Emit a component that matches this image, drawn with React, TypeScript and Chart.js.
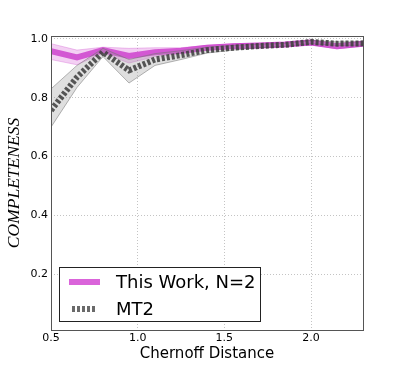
import React, { useEffect, useRef } from "react";
import { Chart, registerables } from "chart.js";

Chart.register(...registerables);

const xVals = [0.5, 0.65, 0.8, 0.95, 1.1, 1.25, 1.4, 1.55, 1.7, 1.85, 2.0, 2.15, 2.3];
const thisWork = [0.958, 0.937, 0.962, 0.942, 0.955, 0.96, 0.97, 0.975, 0.978, 0.981, 0.988, 0.975, 0.984];
const thisWorkLow = [0.93, 0.912, 0.952, 0.918, 0.94, 0.95, 0.962, 0.968, 0.972, 0.975, 0.982, 0.966, 0.978];
const thisWorkHigh = [0.984, 0.962, 0.972, 0.968, 0.97, 0.97, 0.978, 0.982, 0.984, 0.987, 0.993, 0.983, 0.99];
const mt2 = [0.757, 0.87, 0.955, 0.893, 0.93, 0.945, 0.962, 0.97, 0.976, 0.98, 0.99, 0.984, 0.985];
const mt2Low = [0.7, 0.835, 0.94, 0.85, 0.91, 0.93, 0.952, 0.962, 0.97, 0.975, 0.984, 0.978, 0.979];
const mt2High = [0.83, 0.91, 0.968, 0.93, 0.95, 0.96, 0.972, 0.978, 0.982, 0.985, 0.995, 0.99, 0.99];

const xTicks = [0.5, 1.0, 1.5, 2.0];
const yTicks = [0.2, 0.4, 0.6, 0.8, 1.0];
const legendLabels = ["This Work, N=2", "MT2"];
const xTitle = "Chernoff Distance";
const yTitle = "COMPLETENESS";

const pts = (ys: number[]) => xVals.map((x, i) => ({ x, y: ys[i] }));

const MAGENTA_LINE = "rgb(206,70,206)";
const MAGENTA_LEGEND = "rgb(218,100,218)";
const MT2_COLOR = "rgba(60,60,60,0.85)";

const framePlugin = {
  id: "frame",
  afterDraw(chart: any) {
    const { ctx, chartArea } = chart;
    const { left, top, right, bottom } = chartArea;
    ctx.save();
    ctx.strokeStyle = "#555";
    ctx.lineWidth = 1;
    ctx.strokeRect(Math.round(left) + 0.5, Math.round(top) + 0.5, Math.round(right - left), Math.round(bottom - top));
    // legend
    const lx = left + 8;
    const ly = bottom - 63;
    const lw = 201;
    const lh = 54;
    ctx.fillStyle = "#fff";
    ctx.fillRect(lx, ly, lw, lh);
    ctx.strokeStyle = "#222";
    ctx.lineWidth = 1;
    ctx.strokeRect(lx + 0.5, ly + 0.5, lw, lh);
    ctx.font = "18px 'DejaVu Sans'";
    ctx.fillStyle = "#000";
    ctx.textBaseline = "middle";
    ctx.textAlign = "left";
    const r1 = ly + 15;
    const r2 = ly + 42;
    ctx.lineCap = "butt";
    ctx.strokeStyle = MAGENTA_LEGEND;
    ctx.lineWidth = 6;
    ctx.beginPath();
    ctx.moveTo(lx + 10, r1);
    ctx.lineTo(lx + 41, r1);
    ctx.stroke();
    ctx.strokeStyle = "rgba(90,90,90,0.9)";
    ctx.setLineDash([3, 2]);
    ctx.beginPath();
    ctx.moveTo(lx + 13, r2);
    ctx.lineTo(lx + 38, r2);
    ctx.stroke();
    ctx.setLineDash([]);
    ctx.fillText(legendLabels[0], lx + 57, r1 + 1);
    ctx.fillText(legendLabels[1], lx + 57, r2 + 1);
    ctx.restore();
  },
};

export default function App() {
  const ref = useRef<HTMLCanvasElement>(null);
  useEffect(() => {
    document.body.style.margin = "0";
    const chart = new Chart(ref.current!, {
      type: "line",
      data: {
        datasets: [
          {
            label: "MT2",
            data: pts(mt2),
            borderColor: MT2_COLOR,
            borderWidth: 6,
            borderDash: [3, 2],
            borderCapStyle: "butt",
            pointRadius: 0,
            fill: false,
            order: 0,
          },
          {
            label: "mt2Low",
            data: pts(mt2Low),
            borderColor: "rgba(110,110,110,0.5)",
            borderWidth: 1,
            pointRadius: 0,
            fill: false,
            order: 1,
          },
          {
            label: "mt2High",
            data: pts(mt2High),
            borderColor: "rgba(110,110,110,0.5)",
            borderWidth: 1,
            pointRadius: 0,
            fill: "-1",
            backgroundColor: "rgba(150,150,150,0.3)",
            order: 1,
          },
          {
            label: "twLow",
            data: pts(thisWorkLow),
            borderColor: "rgba(210,90,210,0.35)",
            borderWidth: 1,
            pointRadius: 0,
            fill: false,
            order: 2,
          },
          {
            label: "twHigh",
            data: pts(thisWorkHigh),
            borderColor: "rgba(210,90,210,0.35)",
            borderWidth: 1,
            pointRadius: 0,
            fill: "-1",
            backgroundColor: "rgba(220,120,220,0.35)",
            order: 2,
          },
          {
            label: "This Work, N=2",
            data: pts(thisWork),
            borderColor: MAGENTA_LINE,
            borderWidth: 6,
            pointRadius: 0,
            fill: false,
            order: 3,
          },
        ],
      },
      options: {
        responsive: false,
        animation: false,
        devicePixelRatio: 1,
        layout: { padding: { left: 0, top: 36, right: 40, bottom: 0 } },
        plugins: { legend: { display: false }, tooltip: { enabled: false } },
        scales: {
          x: {
            type: "linear",
            min: 0.5,
            max: 2.3,
            afterBuildTicks: (s: any) => {
              s.ticks = xTicks.map((v) => ({ value: v }));
            },
            afterFit: (s: any) => {
              s.height = 37;
            },
            grid: { color: "#c4c4c4", drawTicks: false, lineWidth: 1 },
            border: { display: false, dash: [1, 2] },
            ticks: {
              color: "#000",
              font: { family: "DejaVu Sans", size: 11 },
              padding: 2,
              maxRotation: 0,
              callback: (v: any) => Number(v).toFixed(1),
            },
            title: {
              display: true,
              text: xTitle,
              color: "#000",
              font: { family: "DejaVu Sans", size: 15 },
              padding: { top: 0, bottom: 4 },
            },
          },
          y: {
            type: "linear",
            min: 0.01,
            max: 1.01,
            afterBuildTicks: (s: any) => {
              s.ticks = yTicks.map((v) => ({ value: v }));
            },
            afterFit: (s: any) => {
              s.width = 51;
            },
            grid: { color: "#c4c4c4", drawTicks: false, lineWidth: 1 },
            border: { display: false, dash: [1, 2] },
            ticks: {
              color: "#000",
              font: { family: "DejaVu Sans", size: 11 },
              padding: 3,
              callback: (v: any) => Number(v).toFixed(1),
            },
            title: {
              display: true,
              text: yTitle,
              color: "#000",
              font: { family: "Liberation Serif", size: 17.5, style: "italic" },
              padding: { top: 4, bottom: 0 },
            },
          },
        },
      },
      plugins: [framePlugin],
    } as any);
    return () => chart.destroy();
  }, []);
  return (
    <div style={{ position: "fixed", left: 0, top: 0, width: 403, height: 367, background: "#fff" }}>
      <canvas ref={ref} width={403} height={367} style={{ width: 403, height: 367 }} />
    </div>
  );
}
